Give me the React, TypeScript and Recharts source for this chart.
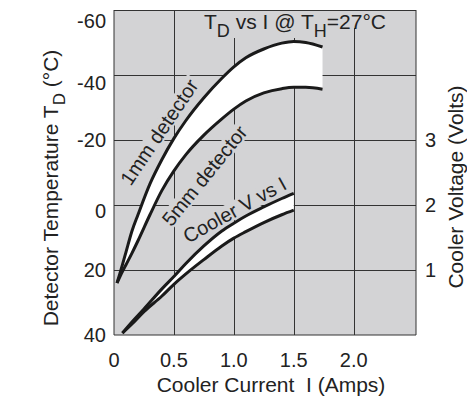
import { ComposedChart, Area, Line, XAxis, YAxis, Customized } from "recharts"

const currentTicks = [0, 0.5, 1, 1.5, 2]
const tempTicks = [-60, -40, -20, 0, 20, 40]
const voltTicks = [1, 2, 3]

// detector curves (T_D in °C), both read at the same currents
const detCurrent = [0.025, 0.05, 0.1, 0.15, 0.2, 0.3, 0.4, 0.5, 0.6, 0.75, 0.9, 1.0, 1.1, 1.25, 1.4, 1.5, 1.6, 1.74]
const temp1mm = [24, 21, 14.5, 8, 3, -6.5, -14, -20.5, -26, -33, -39, -42.5, -45.3, -48, -49.8, -50.3, -50, -48.6]
const temp5mm = [24, 22, 18.4, 14.8, 11, 3, -4.5, -10.5, -15.5, -21.5, -26.5, -29.5, -32, -34.5, -35.8, -36.2, -36.2, -35.6]

// cooler voltage band (volts)
const coolCurrent = [0.07, 0.15, 0.25, 0.4, 0.5, 0.6, 0.75, 0.9, 1.0, 1.1, 1.25, 1.4, 1.5]
const voltHigh = [0.03, 0.2, 0.4, 0.71, 0.9, 1.1, 1.37, 1.6, 1.72, 1.83, 1.97, 2.1, 2.18]
const voltLow = [0.03, 0.17, 0.36, 0.6, 0.78, 0.94, 1.16, 1.37, 1.49, 1.59, 1.73, 1.85, 1.92]

const allCurrents = Array.from(new Set([...detCurrent, ...coolCurrent])).sort((a, b) => a - b)
const data = allCurrents.map((c) => {
  const i = detCurrent.indexOf(c)
  const j = coolCurrent.indexOf(c)
  return {
    current: c,
    t1: i >= 0 ? temp1mm[i] : null,
    t5: i >= 0 ? temp5mm[i] : null,
    det: i >= 0 ? [temp5mm[i], temp1mm[i]] : null,
    vHi: j >= 0 ? voltHigh[j] : null,
    vLo: j >= 0 ? voltLow[j] : null,
    cool: j >= 0 ? [voltLow[j], voltHigh[j]] : null,
  }
})

const ink = "#222"
const panel = "#d3d3d5"
const gridColor = "#333"

// plot box (matches margin + axis sizes below)
const plot = { left: 114, top: 10, width: 302, height: 325 }
const xMax = 2.52
const gridX = (c: number) => Math.round(plot.left + (c / xMax) * plot.width) + 0.5
const gridY = (t: number) => Math.round(plot.top + ((t + 60) / 100) * plot.height) + 0.5

// a few of the left labels sit a little low in the original
const tempNudge: Record<number, number> = { [-60]: 11, [-40]: 8, [0]: 6 }

function TempTick(props: any) {
  const { x, y, payload } = props
  return (
    <text x={x} y={y + (tempNudge[payload.value] ?? 0)} dy="0.36em" textAnchor="end" fontSize={20} fill={ink}>
      {payload.value}
    </text>
  )
}

function CurveLabel({ x, y, angle, w, text }: { x: number; y: number; angle: number; w: number; text: string }) {
  return (
    <g transform={`translate(${x},${y}) rotate(${angle})`}>
      <rect x={-w / 2} y={-16} width={w} height={18} fill={panel} />
      <text textAnchor="middle" fontSize={20} fill={ink}>
        {text}
      </text>
    </g>
  )
}

function Overlay() {
  return (
    <g fill={ink}>
      {/* grid, drawn first so label boxes and bands sit over it */}
      {tempTicks.slice(0, -1).map((t) => (
        <line key={"h" + t} x1={plot.left} x2={plot.left + plot.width} y1={gridY(t)} y2={gridY(t)} stroke={gridColor} strokeWidth={1} />
      ))}
      {currentTicks.slice(1).map((c) => (
        <line key={"v" + c} x1={gridX(c)} x2={gridX(c)} y1={plot.top} y2={plot.top + plot.height} stroke={gridColor} strokeWidth={1} />
      ))}
      <rect x={200} y={11} width={145} height={27} fill={panel} />
      <rect x={345} y={11} width={50} height={17} fill={panel} />
      <text x={204} y={29} fontSize={21}>
        T<tspan dy={8} fontSize={18}>D</tspan>
        <tspan dy={-8}> vs I @ T</tspan>
        <tspan dy={8} fontSize={18}>H</tspan>
        <tspan dy={-8}>=27°C</tspan>
      </text>
      <CurveLabel x={165} y={136} angle={-56} w={128} text="1mm detector" />
      <CurveLabel x={210} y={180} angle={-51} w={128} text="5mm detector" />
      <CurveLabel x={238} y={216} angle={-29} w={118} text="Cooler V vs I" />
      <text transform="translate(58,188) rotate(-90)" textAnchor="middle" fontSize={21}>
        Detector Temperature T<tspan dy={7} fontSize={17}>D</tspan>
        <tspan dy={-7}> (°C)</tspan>
      </text>
      <text transform="translate(463,187) rotate(-90)" textAnchor="middle" fontSize={21}>
        Cooler Voltage (Volts)
      </text>
      <text x={271} y={392} textAnchor="middle" fontSize={21}>
        Cooler Current{"\u00a0 "}I (Amps)
      </text>
    </g>
  )
}

export default function App() {
  return (
    <div style={{ position: "absolute", left: 0, top: 0, fontFamily: "'Liberation Sans', Arial, sans-serif" }}>
      {/* grey panel behind the plot area */}
      <div style={{ position: "absolute", left: plot.left, top: plot.top, width: plot.width, height: plot.height, background: panel }} />
      <div style={{ position: "relative" }}>
        <ComposedChart width={467} height={397} data={data} margin={{ top: 10, right: 0, bottom: 0, left: 0 }}>
          <XAxis
            dataKey="current"
            type="number"
            domain={[0, xMax]}
            ticks={currentTicks}
            tickFormatter={(v: number) => (v === 0 ? "0" : v.toFixed(1))}
            height={62}
            tickSize={0}
            tickMargin={18}
            tick={{ fontSize: 20, fill: ink }}
            stroke={gridColor}
            allowDataOverflow
          />
          <YAxis
            yAxisId="t"
            type="number"
            domain={[-60, 40]}
            reversed
            ticks={tempTicks}
            width={114}
            tickSize={0}
            tickMargin={8}
            tick={<TempTick />}
            stroke={gridColor}
            allowDataOverflow
          />
          <YAxis
            yAxisId="v"
            orientation="right"
            type="number"
            domain={[0, 5]}
            ticks={voltTicks}
            width={51}
            tickSize={0}
            tickMargin={9}
            tick={{ fontSize: 20, fill: ink }}
            stroke={gridColor}
            allowDataOverflow
          />
          <Customized component={Overlay} />
          <Area yAxisId="t" type="monotone" dataKey="det" fill="#fff" fillOpacity={1} stroke="none" connectNulls isAnimationActive={false} />
          <Area yAxisId="v" type="monotone" dataKey="cool" fill="#fff" fillOpacity={1} stroke="none" connectNulls isAnimationActive={false} />
          <Line yAxisId="t" type="monotone" dataKey="t1" stroke="#1a1a1a" strokeWidth={3} dot={false} connectNulls isAnimationActive={false} />
          <Line yAxisId="t" type="monotone" dataKey="t5" stroke="#1a1a1a" strokeWidth={3} dot={false} connectNulls isAnimationActive={false} />
          <Line yAxisId="v" type="monotone" dataKey="vHi" stroke="#1a1a1a" strokeWidth={3} dot={false} connectNulls isAnimationActive={false} />
          <Line yAxisId="v" type="monotone" dataKey="vLo" stroke="#1a1a1a" strokeWidth={3} dot={false} connectNulls isAnimationActive={false} />
        </ComposedChart>
      </div>
    </div>
  )
}
